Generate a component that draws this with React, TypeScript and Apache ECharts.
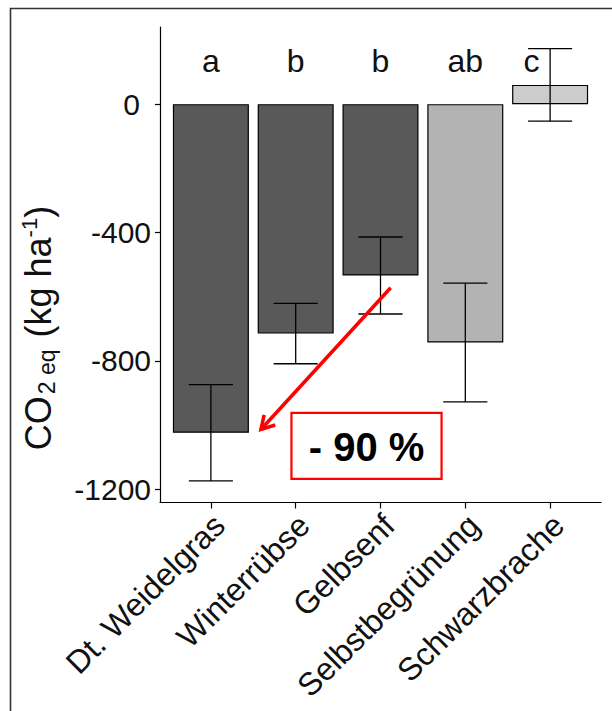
import React, { useEffect, useRef } from "react";
import * as echarts from "echarts";

// Treatments (cover crops and bare fallow)
const categories = ["Dt. Weidelgras", "Winterrübse", "Gelbsenf", "Selbstbegrünung", "Schwarzbrache"];
// Mean CO2-equivalent balance (kg ha-1) and standard error
const means = [-1024, -715, -534, -743, 60];
const errors = [150, 94, 120, 185, 113];
// Significance groups
const groupLetters = ["a", "b", "b", "ab", "c"];
// Y axis tick values
const yTicks = [-1200, -800, -400, 0];

const FONT = "'Liberation Sans', Arial, Helvetica, sans-serif";

export default function App() {
  const ref = useRef<HTMLDivElement>(null);

  useEffect(() => {
    if (!ref.current) return;
    const chart = echarts.init(ref.current, undefined, { renderer: "svg" });

    // ggplot-like expansion: 5 % of the data range on the y axis, 0.6 units on x
    const lo = Math.min(...means.map((m, i) => m - errors[i]), 0);
    const hi = Math.max(...means.map((m, i) => m + errors[i]), 0);
    const pad = (hi - lo) * 0.05;
    const yMin = lo - pad;
    const yMax = hi + pad;
    const xMin = 0.4;
    const xMax = categories.length + 0.6;
    const xs = categories.map((_, i) => i + 1);

    const fills = ["#595959", "#595959", "#595959", "#b3b3b3", "#cccccc"];
    const letterY = 135;

    const option: echarts.EChartsOption = {
      animation: false,
      backgroundColor: "#ffffff",
      grid: { left: 160, right: 11, top: 27, bottom: 208.5, containLabel: false },
      xAxis: {
        type: "value",
        min: xMin,
        max: xMax,
        splitLine: { show: false },
        axisLine: { show: true, onZero: false, lineStyle: { color: "#000", width: 1.2 } },
        axisTick: { show: true, length: 6, customValues: xs, lineStyle: { color: "#000", width: 1.2 } },
        axisLabel: {
          customValues: xs,
          rotate: 45,
          margin: 9,
          verticalAlign: "top",
          lineHeight: 24,
          fontSize: 32,
          fontFamily: FONT,
          color: "#111",
          formatter: (v: number) => categories[Math.round(v) - 1] ?? "",
        },
      },
      yAxis: {
        type: "value",
        min: yMin,
        max: yMax,
        splitLine: { show: false },
        axisLine: { show: true, onZero: false, lineStyle: { color: "#000", width: 1.2 } },
        axisTick: { show: true, length: 5, customValues: yTicks, lineStyle: { color: "#000", width: 1.2 } },
        axisLabel: {
          customValues: yTicks,
          margin: 9,
          fontSize: 30,
          fontFamily: FONT,
          color: "#111",
          formatter: (v: number) => (v === 0 ? "{z|0}" : String(v)),
          rich: {
            z: { fontSize: 30, fontFamily: FONT, color: "#111", padding: [0, 11, 0, 0] },
          },
        },
      },
      series: [
        {
          type: "bar",
          barWidth: 76,
          data: means.map((v, i) => ({
            value: [i + 1, v],
            itemStyle: { color: fills[i], borderColor: "#000", borderWidth: 1.2 },
          })),
          z: 2,
        },
        {
          // error bars
          type: "custom",
          z: 3,
          data: means.map((m, i) => [i + 1, m, errors[i]]),
          renderItem: (params: any, api: any) => {
            const x = api.value(0);
            const m = api.value(1);
            const e = api.value(2);
            const top = api.coord([x, m + e]);
            const bot = api.coord([x, m - e]);
            const half = api.size([0.26, 0])[0];
            const style = { stroke: "#000", lineWidth: 1.3 };
            return {
              type: "group",
              children: [
                { type: "line", shape: { x1: top[0], y1: top[1], x2: bot[0], y2: bot[1] }, style },
                { type: "line", shape: { x1: top[0] - half, y1: top[1], x2: top[0] + half, y2: top[1] }, style },
                { type: "line", shape: { x1: bot[0] - half, y1: bot[1], x2: bot[0] + half, y2: bot[1] }, style },
              ],
            };
          },
        },
        {
          // significance letters
          type: "custom",
          z: 4,
          data: groupLetters.map((_, i) => [i + 1, letterY]),
          renderItem: (params: any, api: any) => {
            const idx = params.dataIndex;
            const p = api.coord([api.value(0), api.value(1)]);
            const dx = idx === categories.length - 1 ? -api.size([0.22, 0])[0] : 0;
            return {
              type: "text",
              x: p[0] + dx,
              y: p[1],
              style: {
                text: groupLetters[idx],
                fontSize: 32,
                fontFamily: FONT,
                fill: "#111",
                align: "center",
                verticalAlign: "middle",
              },
            };
          },
        },
        {
          // reduction arrow
          type: "custom",
          z: 5,
          clip: false,
          data: [[3.12, -572, 1.59, -1014]],
          renderItem: (params: any, api: any) => {
            const a = api.coord([api.value(0), api.value(1)]);
            const b = api.coord([api.value(2), api.value(3)]);
            const ang = Math.atan2(b[1] - a[1], b[0] - a[0]);
            const len = 15;
            const spread = Math.PI / 6;
            const w1 = [b[0] - len * Math.cos(ang - spread), b[1] - len * Math.sin(ang - spread)];
            const w2 = [b[0] - len * Math.cos(ang + spread), b[1] - len * Math.sin(ang + spread)];
            const style = { stroke: "#ff0000", lineWidth: 3.5, fill: "none", lineCap: "butt", lineJoin: "miter" };
            return {
              type: "group",
              children: [
                { type: "line", shape: { x1: a[0], y1: a[1], x2: b[0], y2: b[1] }, style },
                { type: "polyline", shape: { points: [w1, b, w2] }, style },
              ],
            };
          },
        },
        {
          // boxed reduction note
          type: "custom",
          z: 5,
          clip: false,
          data: [[1.95, -962, 3.72, -1168]],
          renderItem: (params: any, api: any) => {
            const p1 = api.coord([api.value(0), api.value(1)]);
            const p2 = api.coord([api.value(2), api.value(3)]);
            return {
              type: "group",
              children: [
                {
                  type: "rect",
                  shape: { x: p1[0], y: p1[1], width: p2[0] - p1[0], height: p2[1] - p1[1] },
                  style: { stroke: "#ff0000", lineWidth: 2.2, fill: "#ffffff" },
                },
                {
                  type: "text",
                  x: (p1[0] + p2[0]) / 2,
                  y: (p1[1] + p2[1]) / 2 + 1,
                  style: {
                    text: "- 90 %",
                    fontSize: 40,
                    fontWeight: "bold",
                    fontFamily: FONT,
                    fill: "#000",
                    align: "center",
                    verticalAlign: "middle",
                  },
                },
              ],
            };
          },
        },
      ],
      graphic: [
        {
          type: "rect",
          shape: { x: 10.5, y: 8.5, width: 640, height: 740 },
          style: { stroke: "#333", lineWidth: 1.6, fill: "none" },
          silent: true,
          z: 0,
        },
        {
          type: "text",
          x: 38,
          y: 328,
          rotation: Math.PI / 2,
          style: {
            text: "{m|CO}{s|2 eq}{m| (kg ha}{p|-1}{m|)}",
            align: "center",
            verticalAlign: "middle",
            fill: "#111",
            fontFamily: FONT,
            rich: {
              m: { fontSize: 36, lineHeight: 40, fontFamily: FONT, fill: "#111" },
              s: { fontSize: 23, lineHeight: 23, verticalAlign: "bottom", fontFamily: FONT, fill: "#111", padding: [0, 2, 0, 2] },
              p: { fontSize: 22, lineHeight: 22, verticalAlign: "top", fontFamily: FONT, fill: "#111" },
            },
          },
          silent: true,
        },
      ],
    };

    chart.setOption(option);
    return () => chart.dispose();
  }, []);

  return (
    <div
      ref={ref}
      style={{ position: "fixed", left: 0, top: 0, width: 612, height: 711, background: "#fff" }}
    />
  );
}
